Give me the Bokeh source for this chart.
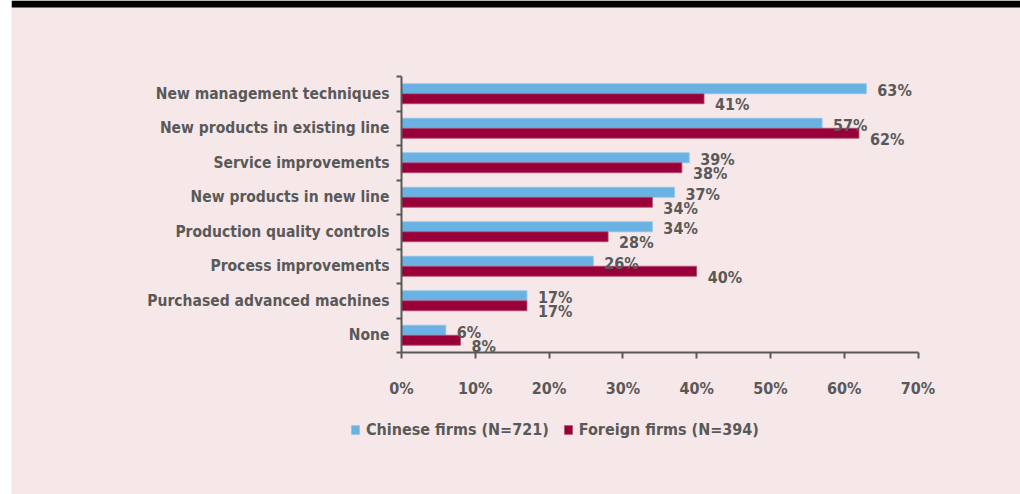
from bokeh.plotting import figure
from bokeh.models import (ColumnDataSource, LabelSet, Range1d, FixedTicker, Legend,
                          LegendItem, BoxAnnotation)
from bokeh.core.properties import value
from bokeh.embed import file_html
from bokeh.resources import INLINE

categories = ["New management techniques", "New products in existing line",
              "Service improvements", "New products in new line",
              "Production quality controls", "Process improvements",
              "Purchased advanced machines", "None"]
chinese = [63, 57, 39, 37, 34, 26, 17, 6]
foreign = [41, 62, 38, 34, 28, 40, 17, 8]
series_names = ["Chinese firms (N=721)", "Foreign firms (N=394)"]
x_ticks = [0, 10, 20, 30, 40, 50, 60, 70]
x_tick_labels = ["0%", "10%", "20%", "30%", "40%", "50%", "60%", "70%"]

BLUE = "#6AB2E3"
MAROON = "#990039"
PINK = "#F6E8E9"
GRAY = "#595959"
FONT = "DejaVu Sans Condensed"

# ---- layout (pixels) -------------------------------------------------------
W, H = 1009, 494                 # figure placed at page x=11, y=0
AX_L, AX_R = 401 - 11, 917.5 - 11  # plot-area edges inside the figure
AX_T, AX_B = 76, 352
BAND = 7                         # black band at top

n = len(categories)
xmax = x_ticks[-1]
px_x = (AX_R - AX_L) / xmax
px_y = (AX_B - AX_T) / n
x_start = -AX_L / px_x
x_end = xmax + (W - AX_R) / px_x
y_lo, y_hi = -0.5, n - 0.5
y_start = y_lo - (H - AX_B) / px_y
y_end = y_hi + AX_T / px_y

ypos = [n - 1 - i for i in range(n)]
bar_h = 0.29

src = ColumnDataSource(dict(
    cat=categories, y=ypos,
    y_c=[v + bar_h / 2 for v in ypos], y_f=[v - bar_h / 2 for v in ypos],
    ch=chinese, fo=foreign,
    ch_lbl=[f"{v}%" for v in chinese], fo_lbl=[f"{v}%" for v in foreign],
    zero=[0] * n,
))

p = figure(width=W, height=H, output_backend="svg", toolbar_location=None,
           x_range=Range1d(x_start, x_end), y_range=Range1d(y_start, y_end),
           min_border=0)
p.title.visible = False
p.background_fill_color = PINK
p.border_fill_color = PINK
p.outline_line_color = None
p.grid.visible = False
p.styles = {"position": "absolute", "left": "11px", "top": "0px"}

p.add_layout(BoxAnnotation(bottom=y_end - BAND / px_y, fill_color="black",
                           fill_alpha=1, line_color=None))

r_c = p.hbar(y="y_c", right="ch", left=0, height=bar_h, source=src,
             fill_color=BLUE, line_color="#8EC5EA", line_width=0.8)
r_f = p.hbar(y="y_f", right="fo", left=0, height=bar_h, source=src,
             fill_color=MAROON, line_color="#B24D6E", line_width=0.8)

# x axis drawn at the bottom of the category area
xa = p.xaxis[0]
xa.fixed_location = y_lo
xa.bounds = (0, xmax)
xa.ticker = FixedTicker(ticks=x_ticks)
xa.major_label_overrides = {t: l for t, l in zip(x_ticks, x_tick_labels)}
xa.axis_line_color = GRAY
xa.axis_line_width = 2
xa.major_tick_line_color = GRAY
xa.major_tick_line_width = 2
xa.major_tick_out = 6
xa.major_tick_in = 0
xa.minor_tick_line_color = None
xa.major_label_standoff = 20
xa.major_label_text_font = FONT
xa.major_label_text_font_style = "bold"
xa.major_label_text_font_size = "16px"
xa.major_label_text_color = GRAY

# y axis at x=0, ticks at category boundaries
bounds_ticks = [v - 0.5 for v in range(n + 1)]
ya = p.yaxis[0]
ya.fixed_location = 0
ya.bounds = (y_lo, y_hi)
ya.ticker = FixedTicker(ticks=bounds_ticks)
ya.major_label_overrides = {t: "" for t in bounds_ticks}
ya.axis_line_color = GRAY
ya.axis_line_width = 2
ya.major_tick_line_color = GRAY
ya.major_tick_line_width = 2
ya.major_tick_out = 5
ya.major_tick_in = 0
ya.minor_tick_line_color = None

cat_labels = LabelSet(x="zero", y="y", text="cat", source=src, x_offset=-12,
                      text_align="right", text_baseline="middle",
                      text_font=value(FONT), text_font_style="bold",
                      text_font_size="15.5px", text_color=GRAY)
lbl_c = LabelSet(x="ch", y="y_c", text="ch_lbl", source=src, x_offset=11, y_offset=-2,
                 text_align="left", text_baseline="middle",
                 text_font=value(FONT), text_font_style="bold",
                 text_font_size="16px", text_color=GRAY)
lbl_f = LabelSet(x="fo", y="y_f", text="fo_lbl", source=src, x_offset=11, y_offset=-6,
                 text_align="left", text_baseline="middle",
                 text_font=value(FONT), text_font_style="bold",
                 text_font_size="16px", text_color=GRAY)
for lab in (cat_labels, lbl_c, lbl_f):
    p.add_layout(lab)

legend = Legend(items=[LegendItem(label=series_names[0], renderers=[r_c]),
                       LegendItem(label=series_names[1], renderers=[r_f])],
                orientation="horizontal", location=(339, 55),
                background_fill_alpha=0, border_line_color=None,
                padding=0, margin=0, spacing=14, label_standoff=6,
                glyph_width=10, glyph_height=11, label_height=11,
                label_text_font=FONT, label_text_font_style="bold",
                label_text_font_size="16px", label_text_color=GRAY)
p.add_layout(legend, "center")

open("out.html", "w").write(file_html(p, INLINE))
